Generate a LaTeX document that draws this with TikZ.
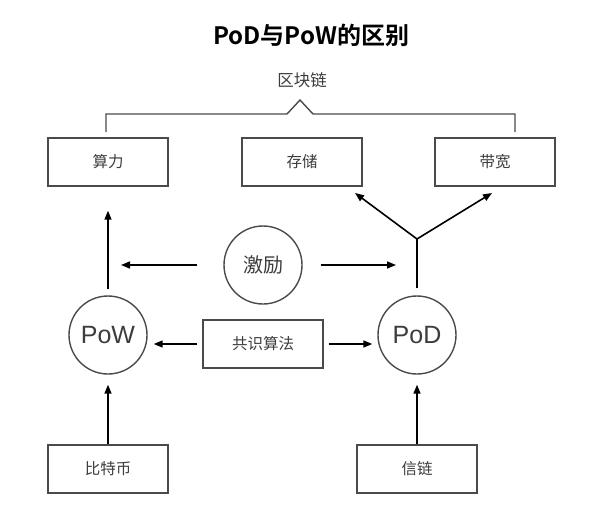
\documentclass[tikz,border=0pt]{standalone}
\usepackage{fontspec}
\setmainfont{Noto Sans CJK SC}[BoldFont=Noto Sans CJK SC Bold]
\newfontfamily\LatinRond{Liberation Sans}
\definecolor{GrisTexte}{HTML}{3C3C3C}
\definecolor{GrisCadre}{HTML}{4A4A4A}
\usetikzlibrary{arrows.meta}
\usetikzlibrary{positioning}
\tikzset{
	boite/.style={draw=GrisCadre, line width=1.4, minimum width=120, minimum height=48,
		text=GrisTexte, font=\fontsize{15.5}{18}\selectfont},
	rond/.style={draw=GrisCadre, circle, line width=1.4, minimum size=78, inner sep=0,
		text=GrisTexte},
	fleche/.style={line width=1.6, arrows={-Stealth[length=9, width=7, inset=0]}}
}

\begin{document}
\begin{tikzpicture}[x=1pt, y=-1pt]
    \useasboundingbox (0,0) rectangle (600,527);
    % Title and the bracket on top
    \node[font=\fontsize{24}{28}\selectfont\bfseries] (titre) at (311,35) {PoD与PoW的区别};
    \node[text=GrisTexte, font=\fontsize{16.5}{20}\selectfont] (chaine) at (302,80) {区块链};
    \draw[GrisCadre, line width=1.4] (106,132) -- (106,114) -- (287,114) -- (300,100) -- (313,114) -- (515,114) -- (515,132);
    
    % Boxes of the top row
    \node[boite] (suanli) at (108,162) {算力};
    \node[boite] (cunchu) at (302,162) {存储};
    \node[boite] (daikuan) at (495,162) {带宽};
    
    % Circles and the consensus box
    \node[rond, font=\fontsize{20}{24}\selectfont] (jili) at (263,265) {激励};
    \node[rond, font=\LatinRond\fontsize{25}{30}\selectfont] (pow) at (108,335) {PoW};
    \node[rond, font=\LatinRond\fontsize{25}{30}\selectfont] (pod) at (417,335) {PoD};
    \node[boite] (gongshi) at (263,344) {共识算法};
    
    % Boxes of the bottom row
    \node[boite] (bitebi) at (108,469) {比特币};
    \node[boite] (xinlian) at (417,469) {信链};
    
    % Arrows
    \draw[fleche, shorten <=6, shorten >=24] (pow) -- (suanli);
    \draw[fleche, shorten >=10] (bitebi) -- (pow);
    \draw[fleche, shorten >=10] (xinlian) -- (pod);
    \draw[fleche, shorten <=26, shorten >=13] (jili.west) -- (jili -| pow);
    \draw[fleche, shorten <=18, shorten >=21] (jili.east) -- (jili -| pod);
    \draw[fleche, shorten <=5, shorten >=6] (gongshi.west) -- (gongshi.west -| pow.east);
    \draw[fleche, shorten <=5, shorten >=5] (gongshi.east) -- (gongshi.east -| pod.west);
    
    % Fork from PoD to storage and bandwidth
    \coordinate (fourche) at (417,239);
    \coordinate (pointeG) at (355,193);
    \coordinate (pointeD) at (492,193);
    \draw[line width=1.6, shorten <=7] (pod.north) -- (fourche);
    \draw[fleche] (fourche) -- (pointeG);
    \draw[fleche] (fourche) -- (pointeD);
\end{tikzpicture}
\end{document}
